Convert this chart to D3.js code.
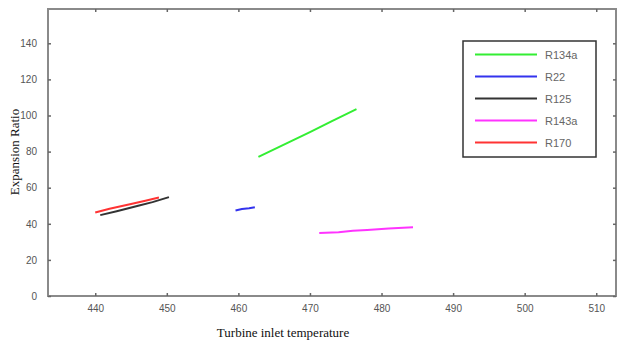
<!DOCTYPE html>
<html><head><meta charset="utf-8">
<script src="https://cdn.jsdelivr.net/npm/d3@7"></script>
<style>body{margin:0;background:#fff}svg{display:block}</style>
</head><body>
<script>
const seriesNames = ["R134a","R22","R125","R143a","R170"];
const seriesColors = ["#33ee33","#3333ee","#333333","#ff33ff","#ff3333"];
const r134aX = [462.8, 466, 470, 473, 476.5];
const r134aY = [77.1, 83.2, 90.8, 96.8, 103.5];
const r22X = [459.6, 460.5, 461.5, 462.3];
const r22Y = [47.4, 48.2, 48.6, 49.2];
const r125X = [440.7, 443, 446, 448, 450.3];
const r125Y = [44.8, 47, 50, 52, 54.8];
const r143aX = [471.3, 474, 476, 478, 481, 484.4];
const r143aY = [34.9, 35.3, 36.1, 36.6, 37.4, 38.1];
const r170X = [440, 442, 445, 447, 448.9];
const r170Y = [46.3, 48.3, 51, 52.8, 54.6];
const xTicks = [440,450,460,470,480,490,500,510];
const yTicks = [0,20,40,60,80,100,120,140];
const xTitle = "Turbine inlet temperature";
const yTitle = "Expansion Ratio";

const W=618,H=343;
const L=48,R=617,T=9,B=296;
const x=d3.scaleLinear().domain([433.4,512.9]).range([L,R]);
const y=d3.scaleLinear().domain([0,159]).range([B,T]);
const svg=d3.select("body").append("svg").attr("width",W).attr("height",H);

const data=[[r134aX,r134aY],[r22X,r22Y],[r125X,r125Y],[r143aX,r143aY],[r170X,r170Y]];

// frame
svg.append("rect").attr("x",L).attr("y",T).attr("width",R-L-1).attr("height",B-T)
  .attr("fill","none").attr("stroke","#8a8a8a").attr("stroke-width",2);

const tickCol="#555";
const ax=svg.append("g").attr("transform",`translate(0,${B})`)
  .call(d3.axisBottom(x).tickValues(xTicks).tickSize(-3).tickPadding(9).tickFormat(d3.format("d")));
const axT=svg.append("g").attr("transform",`translate(0,${T})`)
  .call(d3.axisTop(x).tickValues(xTicks).tickSize(-3).tickFormat(""));
const ay=svg.append("g").attr("transform",`translate(${L},0)`)
  .call(d3.axisLeft(y).tickValues(yTicks).tickSize(-3).tickPadding(11).tickFormat(d3.format("d")));
const ayR=svg.append("g").attr("transform",`translate(${R-1},0)`)
  .call(d3.axisRight(y).tickValues(yTicks).tickSize(-3).tickFormat(""));
[ax,axT,ay,ayR].forEach(g=>{
  g.select(".domain").remove();
  g.selectAll("line").attr("stroke","#666").attr("stroke-width",1.5);
  g.selectAll("text").attr("fill",tickCol).attr("font-family","Liberation Sans, Arial, sans-serif").attr("font-size",10);
});

const line=d3.line().x(d=>x(d[0])).y(d=>y(d[1]));
data.forEach((s,i)=>{
  const pts=s[0].map((v,j)=>[v,s[1][j]]);
  svg.append("path").datum(pts).attr("d",line).attr("fill","none")
    .attr("stroke",seriesColors[i]).attr("stroke-width",2).attr("stroke-linejoin","round");
});

// legend
const lg=svg.append("g");
lg.append("rect").attr("x",463).attr("y",41).attr("width",133).attr("height",116)
  .attr("fill","#fff").attr("stroke","#333").attr("stroke-width",1.5);
seriesNames.forEach((n,i)=>{
  const yy=54.5+i*22;
  lg.append("line").attr("x1",475).attr("x2",537).attr("y1",yy).attr("y2",yy)
    .attr("stroke",seriesColors[i]).attr("stroke-width",2);
  lg.append("text").attr("x",545).attr("y",yy+4).text(n)
    .attr("font-family","Liberation Sans, Arial, sans-serif").attr("font-size",11).attr("fill","#666");
});

svg.append("text").attr("x",283).attr("y",337).attr("text-anchor","middle")
  .attr("font-family","Liberation Serif, Times New Roman, serif").attr("font-size",13).attr("fill","#111").text(xTitle);
svg.append("text").attr("transform","translate(19,152) rotate(-90)").attr("text-anchor","middle")
  .attr("font-family","Liberation Serif, Times New Roman, serif").attr("font-size",13).attr("fill","#111").text(yTitle);
</script>
</body></html>
